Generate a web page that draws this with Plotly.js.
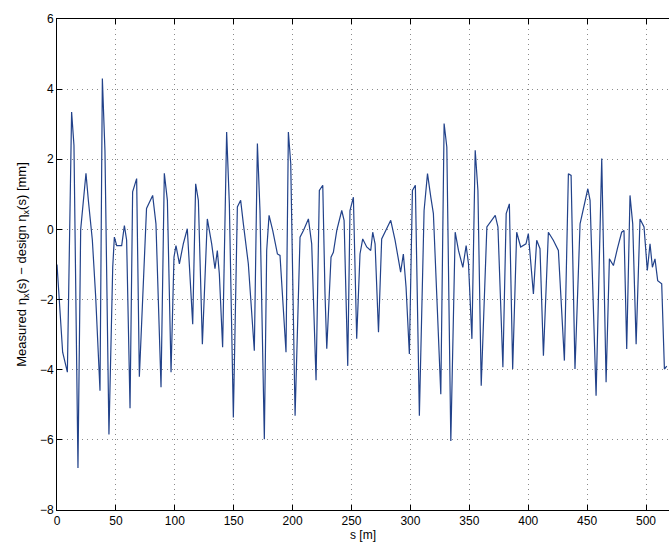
<!DOCTYPE html>
<html>
<head>
<meta charset="utf-8">
<script src="https://cdn.plot.ly/plotly-3.0.1.min.js"></script>
<style>html,body{margin:0;padding:0;background:#fff;}#chart{width:669px;height:545px;}</style>
</head>
<body>
<div id="chart"></div>
<script>
// s position [m]
const sPos = [0,4.8,8.8,12.4,14.4,17.8,20.1,22.4,24.6,26.6,30,32.8,36.5,38.5,40.7,44.1,47.3,48.7,50.7,54.9,57.2,59.1,62,64.2,67.6,69.9,76,81.2,84,88.3,91.1,93.7,96.8,99.3,101,103.9,107.2,110.6,115.2,117.7,120,123.4,127.6,131.3,134.1,136.1,137.8,140.6,144,146.3,149.7,153.1,155.9,158.2,162.4,167.5,170.1,172.3,176,178,180,183.1,187.1,189.3,191.6,194.4,196.4,198.4,202.1,206.3,209.2,213.4,216.2,219.9,222.7,225.6,227.5,229,232.6,234.6,237.5,241.7,243.7,246.8,248.7,251.6,254.4,257.2,259.5,262.9,266.3,268,270,272.9,275.6,279.9,283.3,287,290.6,291.7,294,296.3,299.1,301.7,304.2,307.6,311.6,314.5,317.3,319.5,322.9,325.8,328.6,330.9,334.3,338,340.8,344.5,347.3,349.3,352.2,355,357.3,360.1,364.9,367.8,372,374.3,378.5,381.3,384,386.8,390.2,393.6,398.1,400.1,404.4,407.2,410,412.9,417.1,421.3,425.6,430.7,434.1,436.4,439.7,444,448.3,450.6,452.5,457.6,462.4,466.1,468.9,472.3,475.7,479.3,481.3,483.6,486.4,488.7,491.6,494.9,498.3,501.1,503.4,505.4,507.6,509.9,513.3,515.6,517.6,520];
// Measured eta_x - design eta_x [mm]
const dEta = [-1.0,-3.5,-4.07,3.35,2.4,-6.8,0.0,0.83,1.6,0.83,-0.3,-1.9,-4.6,4.3,2.25,-5.85,-1.08,-0.22,-0.46,-0.46,0.11,-0.3,-5.1,1.07,1.45,-4.2,0.6,0.97,0.16,-4.5,1.6,0.83,-4.07,-0.79,-0.46,-0.98,-0.41,0.02,-2.7,1.3,0.83,-3.27,0.3,-0.41,-1.12,-0.6,-1.27,-3.36,2.78,0.73,-5.36,0.64,0.83,0.16,-0.98,-3.46,2.45,0.54,-5.98,-0.6,0.4,-0.03,-0.7,-0.74,-2.12,-3.5,2.78,1.88,-5.31,-0.22,-0.03,0.3,-0.41,-4.3,1.11,1.26,-1.84,-3.4,-0.79,-0.65,-0.03,0.54,0.26,-3.89,0.54,0.92,-3.12,-0.7,-0.27,-0.5,-0.6,-0.08,-0.41,-2.93,-0.27,0.02,0.26,-0.31,-0.98,-1.22,-0.7,-1.65,-3.55,1.11,1.26,-5.31,0.54,1.59,0.92,0.45,-2.31,-4.7,3.02,2.35,-6.03,-0.08,-0.6,-1.08,-0.46,-0.98,-3.12,2.26,1.11,-4.46,0.07,0.21,0.4,0.07,-3.93,0.45,0.73,-3.98,-0.08,-0.5,-0.41,-0.12,-1.84,-0.31,-0.55,-3.6,-0.08,-0.31,-0.6,-3.74,1.59,1.54,-3.98,0.16,0.83,1.16,0.83,-4.74,2.02,-4.36,-0.84,-1.03,-0.55,-0.08,-0.03,-3.41,0.97,0.16,-3.27,0.3,0.07,-1.17,-0.41,-1.08,-0.84,-1.46,-1.55,-3.98,-3.9];
const xTicks = [0,50,100,150,200,250,300,350,400,450,500];
const yTicks = [-8,-6,-4,-2,0,2,4,6];

const trace = {
  x: sPos, y: dEta, type: 'scatter', mode: 'lines',
  line: {color: '#22428a', width: 1.2},
  hoverinfo: 'skip'
};
const fontFam = 'Liberation Sans, Arial, Helvetica, sans-serif';
const layout = {
  width: 669, height: 545,
  margin: {l: 57, r: 0, t: 19, b: 35},
  paper_bgcolor: '#ffffff', plot_bgcolor: '#ffffff',
  showlegend: false,
  font: {family: fontFam, size: 12, color: '#000'},
  xaxis: {
    range: [0, 519.5], tickvals: xTicks, ticktext: xTicks.map(String),
    ticks: 'inside', ticklen: 5, tickcolor: '#000', tickwidth: 1,
    showline: true, linecolor: '#000', linewidth: 1, mirror: 'ticks',
    showgrid: true, gridcolor: '#8a8a8a', griddash: '1px,4px', gridwidth: 1,
    zeroline: false,
    tickfont: {family: fontFam, size: 12, color: '#000'},
    title: {text: 's [m]', font: {family: fontFam, size: 12, color: '#000'}, standoff: 2}
  },
  yaxis: {
    range: [-8, 6], tickvals: yTicks, ticktext: yTicks.map(v => v < 0 ? '\u2212' + Math.abs(v) : String(v)),
    ticks: 'inside', ticklen: 5, tickcolor: '#000', tickwidth: 1,
    showline: true, linecolor: '#000', linewidth: 1, mirror: false,
    showgrid: true, gridcolor: '#8a8a8a', griddash: '1px,4px', gridwidth: 1,
    zeroline: false,
    tickfont: {family: fontFam, size: 12, color: '#000'},
    title: {text: 'Measured \u03b7<sub>x</sub>(s) \u2212 design \u03b7<sub>x</sub>(s) [mm]', font: {family: fontFam, size: 13, color: '#000'}, standoff: 10}
  }
};
Plotly.newPlot('chart', [trace], layout, {displayModeBar: false, staticPlot: true});
</script>
</body>
</html>
